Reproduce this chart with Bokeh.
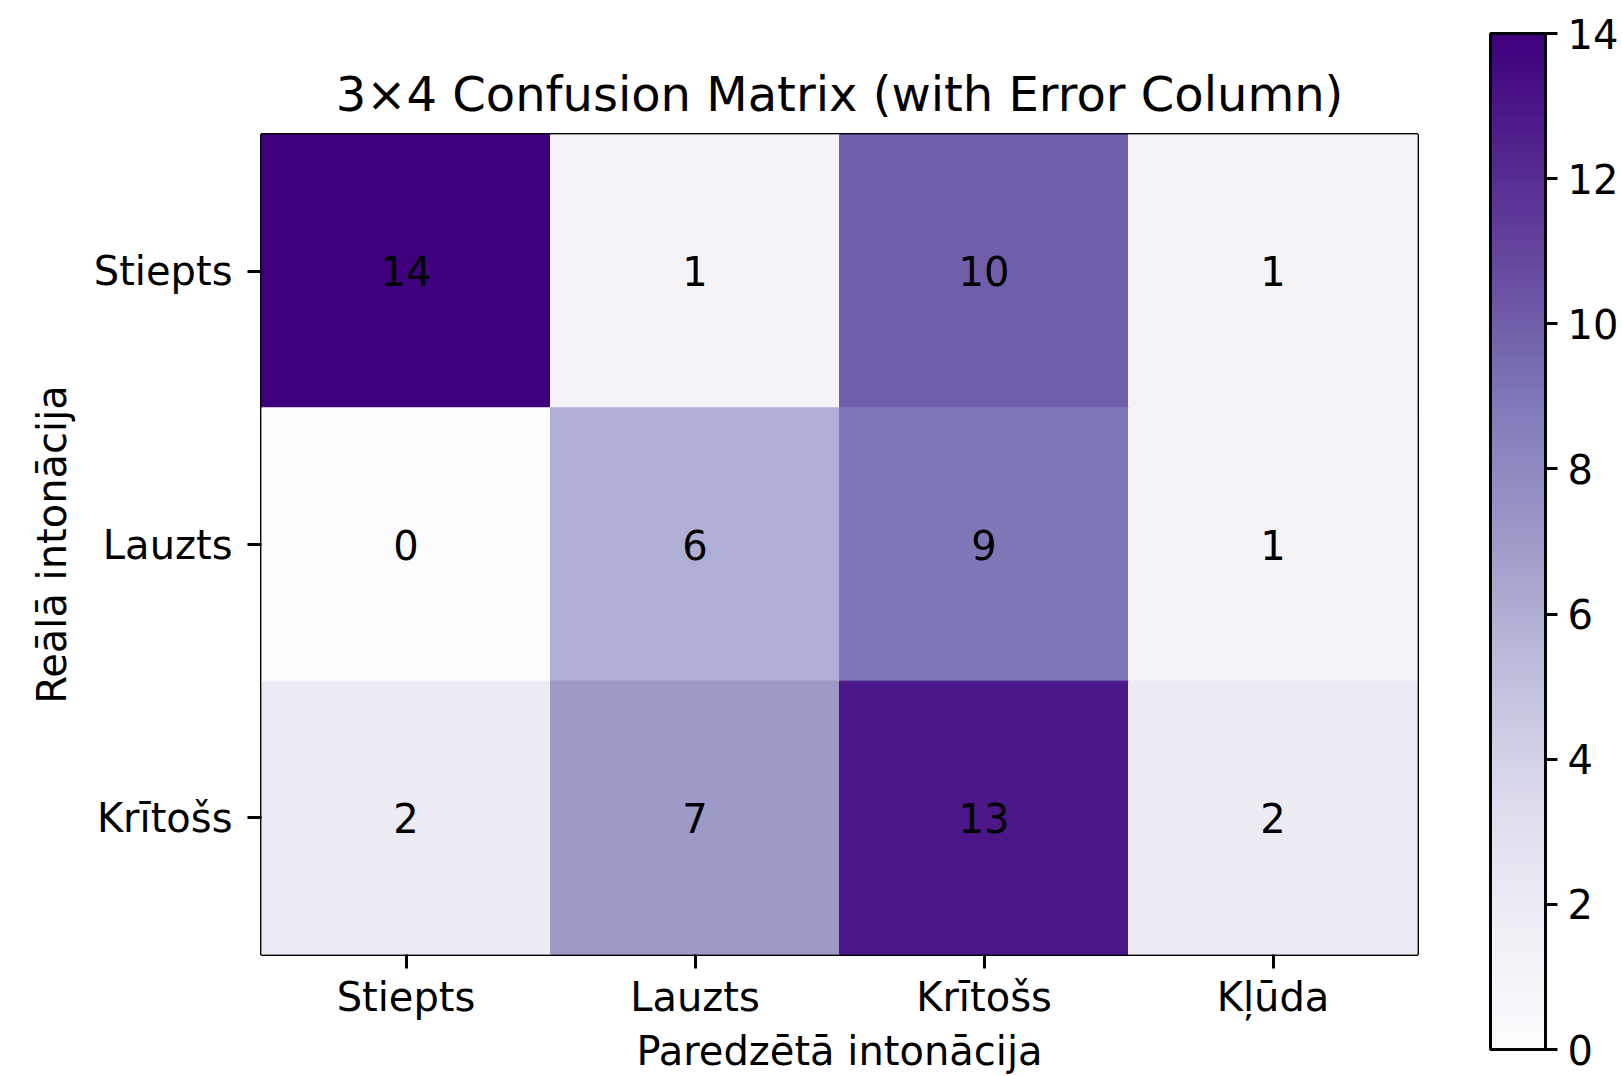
import numpy as np
from bokeh.plotting import figure
from bokeh.models import ColumnDataSource, LinearColorMapper, FixedTicker, ColorBar
from bokeh.embed import file_html
from bokeh.resources import INLINE
from bokeh.core.properties import value

# ---- data ----
pred_labels = ["Stiepts", "Lauzts", "Krītošs", "Kļūda"]
true_labels = ["Stiepts", "Lauzts", "Krītošs"]
row_stiepts = [14, 1, 10, 1]
row_lauzts = [0, 6, 9, 1]
row_kritoss = [2, 7, 13, 2]
cbar_low, cbar_high = 0, 14
cbar_ticks = [0, 2, 4, 6, 8, 10, 12, 14]
title_text = "3×4 Confusion Matrix (with Error Column)"
x_title = "Paredzētā intonācija"
y_title = "Reālā intonācija"

# ---- colormap (matplotlib 'Purples' = interpolated ColorBrewer Purples9) ----
brewer_purples = ["#fcfbfd", "#efedf5", "#dadaeb", "#bcbddc", "#9e9ac8",
                  "#807dba", "#6a51a3", "#54278f", "#3f007d"]
def _hex2rgb(h):
    return np.array([int(h[i:i + 2], 16) for i in (1, 3, 5)], dtype=float)
_stops = np.array([_hex2rgb(c) for c in brewer_purples])
palette = []
for i in range(256):
    t = i / 255 * (len(_stops) - 1)
    k = min(int(np.floor(t)), len(_stops) - 2)
    f = t - k
    c = _stops[k] * (1 - f) + _stops[k + 1] * f
    palette.append("#%02x%02x%02x" % tuple(int(round(v)) for v in c))
mapper = LinearColorMapper(palette=palette, low=cbar_low, high=cbar_high)

xs, ys, vals = [], [], []
for rl, vs in zip(true_labels, [row_stiepts, row_lauzts, row_kritoss]):
    for cl, v in zip(pred_labels, vs):
        xs.append(cl)
        ys.append(rl)
        vals.append(v)
src = ColumnDataSource(dict(x=xs, y=ys, val=vals, label=[str(v) for v in vals]))

FONT = "DejaVu Sans"

p = figure(width=1622, height=1076, x_range=pred_labels,
           y_range=list(reversed(true_labels)),
           output_backend="svg", toolbar_location=None,
           min_border_left=261, min_border_right=205,
           min_border_top=134, min_border_bottom=119,
           title=title_text)
p.rect(x="x", y="y", width=1, height=1, source=src,
       fill_color={"field": "val", "transform": mapper},
       line_color={"field": "val", "transform": mapper}, line_width=1)
p.text(x="x", y="y", text="label", source=src, text_align="center",
       text_baseline="middle", text_font=value(FONT), text_font_size="40px",
       text_color="black")

p.title.align = "center"
p.title.text_font = FONT
p.title.text_font_size = "48px"
p.title.text_font_style = "normal"
p.title.text_color = "black"
p.title.standoff = 25

p.grid.visible = False
p.outline_line_color = "black"
p.outline_line_width = 3
p.background_fill_color = "white"
p.border_fill_color = "white"

for ax in (p.xaxis[0], p.yaxis[0]):
    ax.axis_line_color = None
    ax.major_tick_in = 0
    ax.major_tick_out = 14
    ax.major_tick_line_width = 3
    ax.major_tick_line_color = "black"
    ax.major_label_text_font = FONT
    ax.major_label_text_font_size = "40px"
    ax.major_label_text_color = "black"
    ax.axis_label_text_font = FONT
    ax.axis_label_text_font_size = "40px"
    ax.axis_label_text_font_style = "normal"
    ax.axis_label_text_color = "black"
p.xaxis.axis_label = x_title
p.yaxis.axis_label = y_title
p.xaxis.major_label_standoff = 5
p.xaxis.axis_label_standoff = 5
p.yaxis.major_label_standoff = 15
p.yaxis.axis_label_standoff = 16

# ---- colorbar (drawn beside the heatmap, taller than the frame) ----
cbar = ColorBar(color_mapper=mapper, ticker=FixedTicker(ticks=cbar_ticks),
                location=(1229, -95), width=55, height=1016,
                padding=0, margin=0,
                background_fill_color=None, border_line_color=None,
                bar_line_color="black", bar_line_width=3,
                major_tick_in=0, major_tick_out=12,
                major_tick_line_color="black", major_tick_line_width=3,
                minor_tick_line_color=None,
                label_standoff=10,
                major_label_text_font=FONT,
                major_label_text_font_size="40px",
                major_label_text_color="black")
p.add_layout(cbar, "center")

open("out.html", "w").write(file_html(p, INLINE))
